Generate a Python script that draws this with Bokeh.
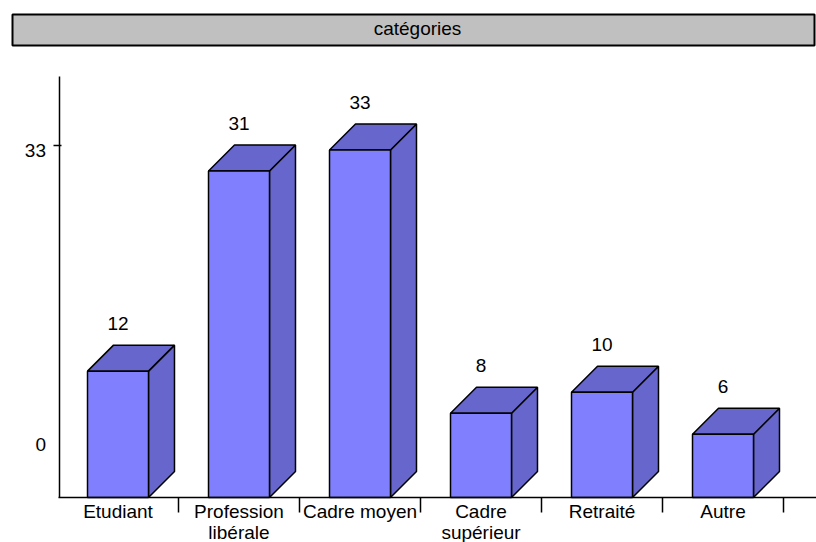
from bokeh.plotting import figure
from bokeh.models import Range1d, FixedTicker
from bokeh.embed import file_html
from bokeh.resources import INLINE
from bokeh.core.properties import value

# ---- data ----
categories = ["Etudiant", "Profession\nlibérale", "Cadre moyen", "Cadre\nsupérieur", "Retraité", "Autre"]
counts = [12, 31, 33, 8, 10, 6]
y_tick_values = [5, 33]
y_tick_labels = ["0", "33"]
title_text = "catégories"

# ---- style / layout ----
FONT = "Liberation Sans"
FS = "19px"
FRONT = "#8080ff"
SHADE = "#6666cc"
W, H = 816, 542
CAT_PX = 121.0      # pixels per category
CAT0_PX = 57.0      # left edge of first category (px)
UNIT_PX = 10.53     # pixels per value unit
BASE_PX = 497.0     # y pixel of value 0 (from top)
HALF = 0.252        # half width of front face (category units)
DX = 26.0 / CAT_PX  # 3D depth, x
DY = 26.0 / UNIT_PX # 3D depth, y


def xd(px):
    return (px - CAT0_PX) / CAT_PX - 0.5


def yd(py):
    return (BASE_PX - py) / UNIT_PX


p = figure(width=W, height=H, x_range=Range1d(xd(0), xd(W)),
           y_range=Range1d(yd(H), yd(0)), toolbar_location=None,
           output_backend="svg", min_border=0)
p.outline_line_color = None
p.grid.visible = False
p.background_fill_color = "white"
p.border_fill_color = "white"

# ---- header box ----
p.quad(left=[xd(12)], right=[xd(814)], top=[yd(14)], bottom=[yd(45)],
       fill_color="#c0c0c0", line_color="black", line_width=2)
p.text(x=[xd(417)], y=[yd(28)], text=[title_text], text_align="center",
       text_baseline="middle", text_font=value(FONT), text_font_size=FS,
       text_color="black")

# ---- 3D bars ----
xs = list(range(len(categories)))
lefts = [x - HALF for x in xs]
rights = [x + HALF for x in xs]

side_xs = [[r, r + DX, r + DX, r] for r in rights]
side_ys = [[0, DY, c + DY, c] for c in counts]
top_xs = [[l, l + DX, r + DX, r] for l, r in zip(lefts, rights)]
top_ys = [[c, c + DY, c + DY, c] for c in counts]

p.patches(side_xs, side_ys, fill_color=SHADE, line_color="black", line_width=1.5)
p.patches(top_xs, top_ys, fill_color=SHADE, line_color="black", line_width=1.5)
p.quad(left=lefts, right=rights, bottom=0, top=counts, fill_color=FRONT,
       line_color="black", line_width=1.5)

p.text(x=xs, y=[c + DY for c in counts], text=[str(c) for c in counts],
       y_offset=-22, text_align="center", text_baseline="middle",
       text_font=value(FONT), text_font_size=FS, text_color="black")

# ---- x axis ----
xa = p.xaxis[0]
xa.fixed_location = 0
xa.bounds = (xd(58), xd(W))
xa.ticker = FixedTicker(ticks=xs, minor_ticks=[x + 0.5 for x in xs])
xa.major_label_overrides = {x: c for x, c in zip(xs, categories)}
xa.major_tick_line_color = None
xa.major_tick_in = 0
xa.major_tick_out = 0
xa.minor_tick_line_color = "black"
xa.minor_tick_line_width = 1.5
xa.minor_tick_in = 0
xa.minor_tick_out = 15
xa.major_label_standoff = -12
xa.major_label_text_font = FONT
xa.major_label_text_font_size = FS
xa.major_label_text_color = "black"
xa.major_label_text_line_height = 1.0
xa.axis_line_color = "black"
xa.axis_line_width = 1.5

# ---- y axis ----
ya = p.yaxis[0]
ya.fixed_location = xd(58.5)
ya.bounds = (0, yd(76))
ya.ticker = FixedTicker(ticks=y_tick_values, minor_ticks=[33.4])
ya.major_label_overrides = {v: t for v, t in zip(y_tick_values, y_tick_labels)}
ya.major_tick_line_color = None
ya.major_tick_in = 0
ya.major_tick_out = 0
ya.minor_tick_line_color = "black"
ya.minor_tick_line_width = 1.5
ya.minor_tick_in = 2
ya.minor_tick_out = 6
ya.major_label_standoff = 7
ya.major_label_text_font = FONT
ya.major_label_text_font_size = FS
ya.major_label_text_color = "black"
ya.axis_line_color = "black"
ya.axis_line_width = 1.5

open("out.html", "w").write(file_html(p, INLINE))
